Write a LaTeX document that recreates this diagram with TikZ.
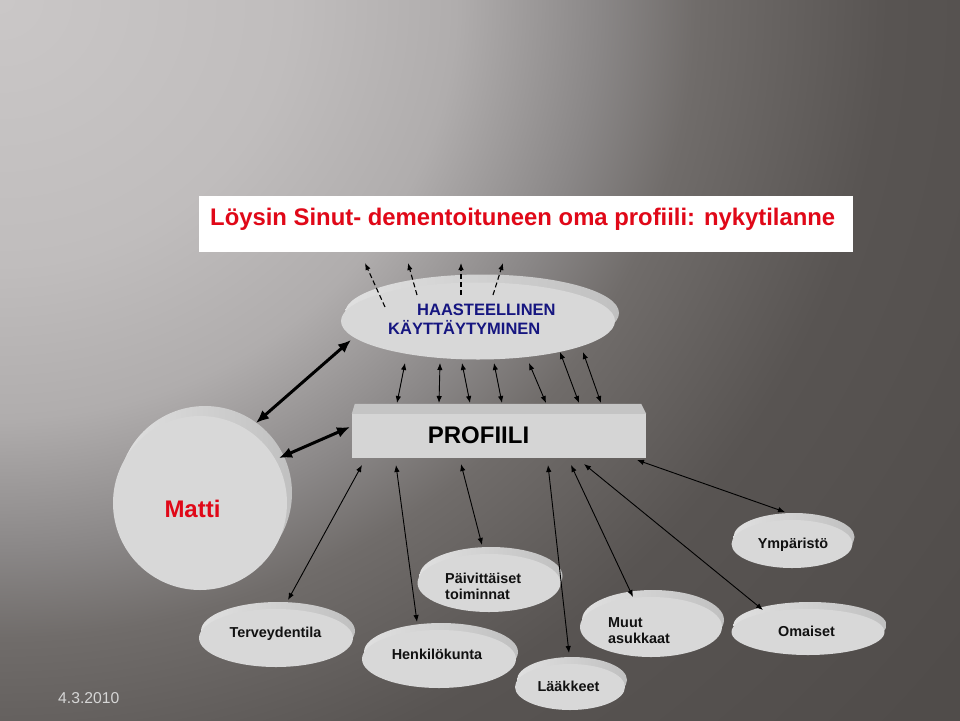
\documentclass[tikz,border=0pt]{standalone}
\usepackage{fontspec}
\usepackage{graphicx}
\setmainfont{Liberation Sans}
\usetikzlibrary{shapes.geometric,arrows.meta,shadows}
\definecolor{bg0}{RGB}{202,199,199}
\definecolor{bg1}{RGB}{192,189,189}
\definecolor{bg2}{RGB}{176,173,173}
\definecolor{bg3}{RGB}{138,135,135}
\definecolor{bg4}{RGB}{112,108,106}
\definecolor{bg5}{RGB}{88,84,82}
\definecolor{bg6}{RGB}{80,76,74}
\definecolor{titlered}{RGB}{224,8,24}
\definecolor{navy}{RGB}{22,22,128}
\definecolor{faceg}{RGB}{216,216,216}
\definecolor{rimL}{RGB}{224,224,224}
\definecolor{rimR}{RGB}{192,192,192}
\definecolor{boxfront}{RGB}{213,213,213}
\definecolor{boxtopc}{RGB}{196,196,196}
\definecolor{datec}{RGB}{214,214,214}
\definecolor{labelc}{RGB}{17,17,17}
\pgfdeclareradialshading{bgrad}{\pgfpoint{0bp}{0bp}}{color(0bp)=(bg0); color(6bp)=(bg1); color(9.5bp)=(bg2); color(12.5bp)=(bg3); color(14.5bp)=(bg4); color(18.5bp)=(bg5); color(25bp)=(bg6); color(50bp)=(bg6)}
\begin{document}
\begin{tikzpicture}[x=1pt,y=-1pt,
  disc/.style 2 args={ellipse, inner sep=0pt, fill=faceg,
    general shadow={shading=axis, left color=rimL, right color=rimR,
      shadow xshift=#1, shadow yshift=#2}},
  lbl/.style={inner sep=0pt, text=labelc, font=\bfseries\fontsize{14.4}{16}\selectfont},
  lthick/.style={line width=3pt, {Latex[length=13pt,width=11pt]}-{Latex[length=13pt,width=11pt]}},
  lthin/.style={line width=0.9pt, {Latex[length=7pt,width=5.5pt]}-{Latex[length=7pt,width=5.5pt]}},
  ldash/.style={line width=1.1pt, dash pattern=on 5pt off 3pt, -{Latex[length=7pt,width=5.5pt]}}
]
\useasboundingbox (0,0) rectangle (960,720);
\begin{scope}
  \clip (0,0) rectangle (960,720);
  \shade[shading=bgrad] (-1200,-1100) rectangle (1200,1100);
\end{scope}

% title
\node[fill=white, minimum width=654pt, minimum height=56pt, inner sep=0pt] (titlebox) at (526,224) {};
\node[anchor=base west, inner sep=0pt, text=titlered, font=\bfseries\fontsize{24}{28}\selectfont] (title) at (210,225)
  {\resizebox{625pt}{\height}{Löysin Sinut- dementoituneen oma profiili: nykytilanne}};

% discs
\node[disc={4pt}{8pt}, minimum width=274pt, minimum height=77pt] (haas) at (478,321) {};
\node[disc={5pt}{10pt}, minimum width=174pt, minimum height=174pt] (matti) at (200,503) {};
\node[disc={2pt}{7pt}, minimum width=121pt, minimum height=48pt] (ymp) at (792,544) {};
\node[disc={2pt}{7pt}, minimum width=143pt, minimum height=58pt] (paiv) at (489,583) {};
\node[disc={2pt}{7pt}, minimum width=154pt, minimum height=58pt] (terv) at (276,638) {};
\node[disc={2pt}{7pt}, minimum width=154pt, minimum height=58pt] (henk) at (439,659) {};
\node[disc={2pt}{7pt}, minimum width=110pt, minimum height=46pt] (laak) at (570,687) {};
\node[disc={2pt}{7pt}, minimum width=142pt, minimum height=60pt] (muut) at (651,627) {};
\node[disc={2pt}{7pt}, minimum width=153pt, minimum height=46pt] (omai) at (808,632) {};

% profile box
\node[fill=boxfront, minimum width=294pt, minimum height=44pt, inner sep=0pt] (profiili) at (499,436) {};
\fill[boxtopc] (profiili.north west) -- ([shift={(3,-10)}]profiili.north west)
  -- ([shift={(-5,-10)}]profiili.north east) -- (profiili.north east) -- cycle;

% texts
\node[anchor=north west, inner sep=0pt, align=left, text=navy, font=\bfseries\fontsize{16.5}{19}\selectfont] (haasT) at (388,304)
  {\hspace*{29pt}HAASTEELLINEN\\KÄYTTÄYTYMINEN};
\node[anchor=base, inner sep=0pt, font=\bfseries\fontsize{24}{28}\selectfont] (profT) at (478.5,443) {PROFIILI};
\node[anchor=base, inner sep=0pt, text=titlered, font=\bfseries\fontsize{24}{28}\selectfont] (mattiT) at (192.5,517) {Matti};
\node[lbl, anchor=base] (ympT) at (793,548) {Ympäristö};
\node[lbl, anchor=north west, align=left] (paivT) at (445,572.5) {Päivittäiset\\toiminnat};
\node[lbl, anchor=base] (tervT) at (275.5,637) {Terveydentila};
\node[lbl, anchor=base] (henkT) at (437,659) {Henkilökunta};
\node[lbl, anchor=base] (laakT) at (568.5,691) {Lääkkeet};
\node[lbl, anchor=north west, align=left] (muutT) at (608,617) {Muut\\asukkaat};
\node[lbl, anchor=base] (omaiT) at (806.5,636) {Omaiset};
\node[anchor=base west, inner sep=0pt, text=datec, font=\fontsize{15.7}{18}\selectfont] (date) at (58,703) {4.3.2010};

% dashed arrows out of the challenging behaviour
\coordinate (d1) at (365,263);
\coordinate (d2) at (408,263);
\coordinate (d3) at (461,263);
\coordinate (d4) at (503,263);
\draw[ldash] ([shift={(-93,-14)}]haas.center) -- (d1);
\draw[ldash] ([shift={(-61,-26)}]haas.center) -- (d2);
\draw[ldash] ([shift={(-17,-26)}]haas.center) -- (d3);
\draw[ldash] ([shift={(15,-26)}]haas.center) -- (d4);

% thick arrows
\draw[lthick] ([shift={(56,-80)}]matti.center) -- ([shift={(-127,19)}]haas.center);
\draw[lthick] ([shift={(79,-45)}]matti.center) -- ([shift={(-149,-9)}]profiili.center);

% thin arrows haas <-> profiili
\draw[lthin] ([shift={(-73,42)}]haas.center) -- ([shift={(-102,-33)}]profiili.center);
\draw[lthin] ([shift={(-38,42)}]haas.center) -- ([shift={(-60,-33)}]profiili.center);
\draw[lthin] ([shift={(-16,42)}]haas.center) -- ([shift={(-29,-33)}]profiili.center);
\draw[lthin] ([shift={(16,42)}]haas.center) -- ([shift={(3,-33)}]profiili.center);
\draw[lthin] ([shift={(51,42)}]haas.center) -- ([shift={(47,-33)}]profiili.center);
\draw[lthin] ([shift={(82,31)}]haas.center) -- ([shift={(80,-33)}]profiili.center);
\draw[lthin] ([shift={(105,31)}]haas.center) -- ([shift={(102,-33)}]profiili.center);

% thin arrows profiili <-> factors
\draw[lthin] ([shift={(-137,29)}]profiili.center) -- ([shift={(12,-38)}]terv.center);
\draw[lthin] ([shift={(-103,29)}]profiili.center) -- ([shift={(-22,-37)}]henk.center);
\draw[lthin] ([shift={(-38,28)}]profiili.center) -- ([shift={(-7,-38)}]paiv.center);
\draw[lthin] ([shift={(49,29)}]profiili.center) -- ([shift={(-1,-34)}]laak.center);
\draw[lthin] ([shift={(72,29)}]profiili.center) -- ([shift={(-18,-30)}]muut.center);
\draw[lthin] ([shift={(85,28)}]profiili.center) -- ([shift={(-45,-22)}]omai.center);
\draw[lthin] ([shift={(138,24)}]profiili.center) -- ([shift={(-7,-32)}]ymp.center);
\end{tikzpicture}
\end{document}
